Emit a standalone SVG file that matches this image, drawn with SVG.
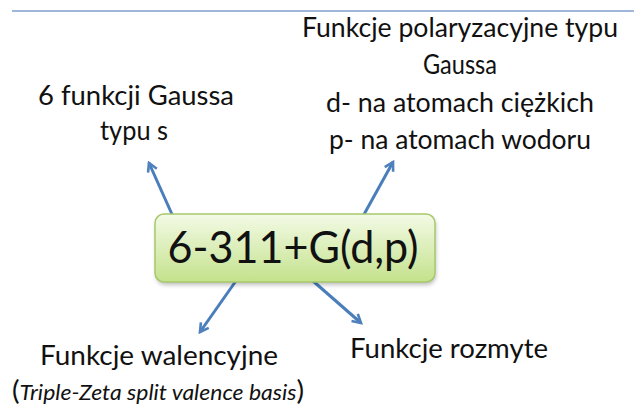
<svg xmlns="http://www.w3.org/2000/svg" width="634" height="412" viewBox="0 0 634 412">
<defs>
<linearGradient id="g" x1="0" y1="0" x2="0" y2="1">
<stop offset="0" stop-color="#f3fae6"/>
<stop offset="1" stop-color="#c4e28c"/>
</linearGradient>
<filter id="sh" x="-10%" y="-20%" width="120%" height="150%">
<feGaussianBlur stdDeviation="2"/>
</filter>
<marker id="ah" viewBox="0 0 10 10" refX="8" refY="5" markerWidth="4" markerHeight="4" orient="auto" markerUnits="strokeWidth">
<polyline points="1,1 8,5 1,9" fill="none" stroke="#4f81bd" stroke-width="2.2" stroke-linejoin="miter"/>
</marker>
</defs>
<style>
text{font-family:Lato,"Open Sans","Liberation Sans",sans-serif;fill:#111;font-size:26px;text-anchor:middle}
.c{stroke:#4a7ebb;stroke-width:3;fill:none;marker-end:url(#ah)}
</style>
<rect width="634" height="412" fill="#fff"/>
<line x1="12" y1="11" x2="634" y2="11" stroke="#7f9fcf" stroke-width="1.5"/>
<g id="connectors">
<line class="c" x1="175" y1="221" x2="149" y2="163"/>
<line class="c" x1="362" y1="218" x2="393" y2="162"/>
<line class="c" x1="238" y1="278" x2="200" y2="332"/>
<line class="c" x1="297" y1="267" x2="361" y2="323"/>
</g>
<g id="center">
<rect x="156" y="217" width="280" height="68" rx="9" fill="#000" opacity="0.25" filter="url(#sh)"/>
<rect x="155" y="214" width="280" height="68" rx="9" fill="url(#g)" stroke="#a7c96b" stroke-width="1.5"/>
<text x="293" y="263" style="font-size:45px" textLength="251" lengthAdjust="spacingAndGlyphs">6-311+G(d,p)</text>
</g>
<g id="gauss-s">
<text x="136" y="105" textLength="196" lengthAdjust="spacingAndGlyphs">6 funkcji Gaussa</text>
<text x="134" y="140" textLength="68" lengthAdjust="spacingAndGlyphs">typu s</text>
</g>
<g id="polar">
<text x="460" y="37" textLength="316" lengthAdjust="spacingAndGlyphs">Funkcje polaryzacyjne typu</text>
<text x="460" y="74" textLength="74" lengthAdjust="spacingAndGlyphs">Gaussa</text>
<text x="460" y="112" textLength="268" lengthAdjust="spacingAndGlyphs">d- na atomach ciężkich</text>
<text x="460" y="149" textLength="262" lengthAdjust="spacingAndGlyphs">p- na atomach wodoru</text>
</g>
<g id="walencyjne">
<text x="159" y="365" textLength="238" lengthAdjust="spacingAndGlyphs">Funkcje walencyjne</text>
<text x="158" y="400" textLength="292" lengthAdjust="spacingAndGlyphs">(<tspan style="font-style:italic;font-size:21px">Triple-Zeta split valence basis</tspan>)</text>
</g>
<g id="rozmyte">
<text x="449" y="358" textLength="198" lengthAdjust="spacingAndGlyphs">Funkcje rozmyte</text>
</g>
</svg>
